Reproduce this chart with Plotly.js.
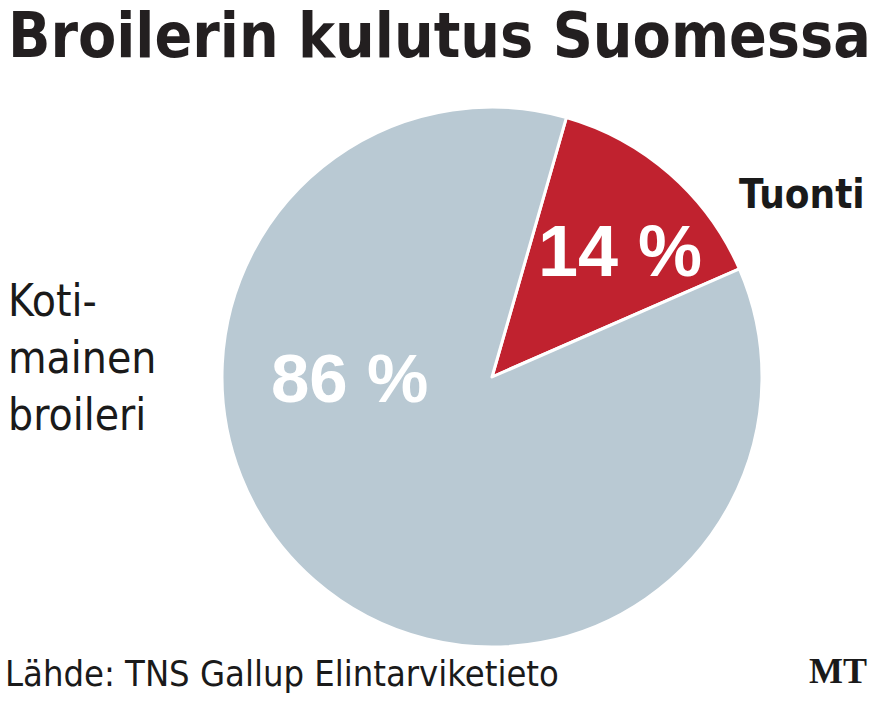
<!DOCTYPE html>
<html><head><meta charset="utf-8">
<script src="https://cdn.plot.ly/plotly-3.0.1.min.js"></script>
<style>html,body{margin:0;padding:0;background:#fff}#chart{width:878px;height:702px}</style>
</head><body><div id="chart"></div>
<script>
const labels = ["Tuonti", "Kotimainen broileri"];
const values = [14, 86];
const colors = ["#c0222f", "#b9c9d3"];
const pctText = ["14 %", "86 %"];
const sideLabels = ["Tuonti", "Koti-<br>mainen<br>broileri"];

const W = 878, H = 702;
const cx = 492, cy = 377, R = 270;
const COND = "DejaVu Sans Condensed, DejaVu Sans, sans-serif";

const trace = {
  type: "pie",
  labels: labels,
  values: values,
  sort: false,
  direction: "clockwise",
  rotation: 16,
  marker: {colors: colors, line: {color: "#ffffff", width: 3}},
  textinfo: "none",
  hoverinfo: "label+percent",
  domain: {x: [(cx - R) / W, (cx + R) / W], y: [(H - cy - R) / H, (H - cy + R) / H]}
};

const layout = {
  width: W, height: H,
  margin: {l: 0, r: 0, t: 0, b: 0},
  paper_bgcolor: "#ffffff",
  showlegend: false,
  title: {
    text: "Broilerin kulutus Suomessa",
    x: 0.009, xanchor: "left", xref: "paper",
    y: 1 - 35 / H, yanchor: "middle", yref: "container",
    font: {family: COND, size: 62, color: "#231f20", weight: "bold", stretch: "condensed"}
  },
  annotations: [
    {text: pctText[0], x: 620 / W, y: 1 - 251 / H, xref: "paper", yref: "paper", xanchor: "center", yanchor: "middle", showarrow: false,
     font: {family: "Liberation Sans, Arial, sans-serif", size: 72, color: "#ffffff", weight: "bold"}},
    {text: pctText[1], x: 349 / W, y: 1 - 378 / H, xref: "paper", yref: "paper", xanchor: "center", yanchor: "middle", showarrow: false,
     font: {family: "Liberation Sans, Arial, sans-serif", size: 69, color: "#ffffff", weight: "bold"}},
    {text: sideLabels[0], x: 737 / W, y: 1 - 194 / H, xref: "paper", yref: "paper", xanchor: "left", yanchor: "middle", showarrow: false,
     font: {family: COND, size: 40, color: "#1a1a1a", weight: "bold", stretch: "condensed"}},
    {text: sideLabels[1], x: 6 / W, y: 1 - 357 / H, xref: "paper", yref: "paper", xanchor: "left", yanchor: "middle", align: "left", showarrow: false,
     font: {family: COND, size: 44, color: "#1a1a1a", stretch: "condensed"}},
    {text: "Lähde: TNS Gallup Elintarviketieto", x: 3 / W, y: 1 - 673 / H, xref: "paper", yref: "paper", xanchor: "left", yanchor: "middle", showarrow: false,
     font: {family: COND, size: 36, color: "#1a1a1a", stretch: "condensed"}},
    {text: "<b>MT</b>", x: 869 / W, y: 1 - 671 / H, xref: "paper", yref: "paper", xanchor: "right", yanchor: "middle", showarrow: false,
     font: {family: "Liberation Serif, Times New Roman, serif", size: 36, color: "#1a1a1a"}}
  ]
};

Plotly.newPlot("chart", [trace], layout, {displayModeBar: false, staticPlot: true});
</script></body></html>
